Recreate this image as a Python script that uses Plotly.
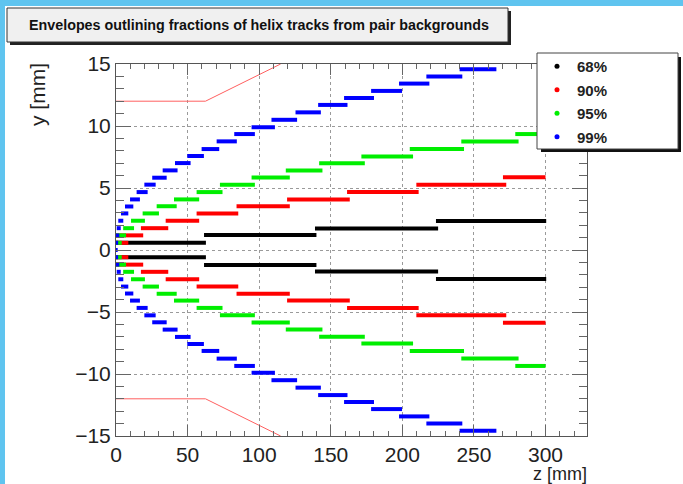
import plotly.graph_objects as go

# ---------------- data ----------------
# 68 % envelope
black_y  = [0.58, 1.20, 1.74, 2.33]
black_z0 = [0.0, 61.5, 139.0, 223.5]
black_z1 = [62.8, 140.0, 225.0, 300.5]

# 90 % envelope
red_y  = [0.58, 1.18, 1.76, 2.36, 2.95, 3.53, 4.08, 4.67, 5.27, 5.86]
red_z0 = [0.0, 0.0, 17.4, 34.7, 56.3, 84.2, 119.5, 161.4, 209.8, 270.3]
red_z1 = [8.6, 19.0, 36.5, 58.1, 85.4, 121.4, 163.3, 211.4, 272.6, 300.0]

# 95 % envelope
green_y  = [0.58, 1.18, 1.76, 2.36, 2.95, 3.53, 4.08, 4.67, 5.27, 5.84,
            6.42, 6.99, 7.55, 8.14, 8.76, 9.35]
green_z0 = [0.0, 0.0, 5.0, 10.5, 18.6, 28.4, 40.5, 56.3, 72.6, 94.7,
            118.6, 141.9, 171.4, 205.2, 241.2, 278.9]
green_z1 = [4.0, 7.0, 12.6, 20.2, 30.0, 42.4, 58.1, 74.4, 97.0, 121.4,
            144.2, 173.8, 207.5, 243.1, 281.2, 300.0]

# 99 % envelope
blue_y  = [0.0, 0.58, 1.17, 1.76, 2.36, 2.95, 3.51, 4.08, 4.67, 5.27, 5.83,
           6.42, 7.01, 7.58, 8.14, 8.76, 9.35, 9.90, 10.50, 11.10, 11.70,
           12.26, 12.83, 13.42, 13.99, 14.58]
blue_z0 = [0.0, 0.0, 0.0, 0.5, 1.6, 3.5, 6.3, 9.8, 14.4, 19.8, 25.3,
           32.6, 41.2, 49.8, 59.8, 70.3, 82.6, 94.7, 108.6, 125.4, 141.2,
           159.3, 178.2, 197.7, 216.8, 240.0]
blue_z1 = [1.0, 1.5, 2.3, 3.3, 5.1, 8.6, 12.1, 16.7, 22.1, 27.7, 35.4,
           43.0, 52.1, 61.4, 72.1, 84.4, 97.0, 111.0, 126.5, 143.1, 161.7,
           180.2, 199.8, 218.9, 241.9, 265.7]

# beam pipe outline (thin red line)
pipe_z = [0.0, 62.5, 115.0]
pipe_y = [12.0, 12.0, 15.0]

legend_labels = ["68%", "90%", "95%", "99%"]
series_colors = ["#000000", "#ff0000", "#00ee00", "#0000ff"]

x_ticks = [0, 50, 100, 150, 200, 250, 300]
y_ticks = [-15, -10, -5, 0, 5, 10, 15]

# ---------------- figure geometry (pixels) ----------------
W, H = 683, 484
L, R, T, B = 116, 587, 64, 436
PW, PH = R - L, B - T


def px(x):
    return (x - L) / PW


def py(y):
    return (B - y) / PH


def segments(ys, z0s, z1s):
    xs, yv = [], []
    for sign in (1, -1):
        for y, a, b in zip(ys, z0s, z1s):
            xs += [a, b, None]
            yv += [sign * y, sign * y, None]
    return xs, yv


fig = go.Figure()

# pipe outline
for s in (1, -1):
    fig.add_trace(go.Scatter(x=pipe_z, y=[s * v for v in pipe_y], mode="lines",
                             line=dict(color="#ff6060", width=1),
                             showlegend=False, hoverinfo="skip"))

all_series = [(black_y, black_z0, black_z1),
              (red_y, red_z0, red_z1),
              (green_y, green_z0, green_z1),
              (blue_y, blue_z0, blue_z1)]

for (ys, a, b), col in zip(all_series, series_colors):
    xs, yv = segments(ys, a, b)
    fig.add_trace(go.Scatter(x=xs, y=yv, mode="lines",
                             line=dict(color=col, width=4),
                             showlegend=False, hoverinfo="skip"))

# legend entries (dot markers)
for i, (lab, col) in enumerate(zip(legend_labels, series_colors)):
    fig.add_trace(go.Scatter(x=[None], y=[None], mode="markers", name=lab,
                             marker=dict(color=col, size=5),
                             legendgroup=f"g{i}"))

shapes = []
# slide border strips
shapes.append(dict(type="rect", xref="paper", yref="paper",
                   x0=px(0), x1=px(5), y0=py(H), y1=py(0),
                   fillcolor="#5fc4ef", line=dict(width=0), layer="below"))
shapes.append(dict(type="rect", xref="paper", yref="paper",
                   x0=px(0), x1=px(W), y0=py(6), y1=py(0),
                   fillcolor="#5fc4ef", line=dict(width=0), layer="below"))
# title box + shadow
shapes.append(dict(type="rect", xref="paper", yref="paper",
                   x0=px(10), x1=px(511), y0=py(45), y1=py(11),
                   fillcolor="#222222", line=dict(width=0), layer="above"))
shapes.append(dict(type="rect", xref="paper", yref="paper",
                   x0=px(7), x1=px(508), y0=py(42), y1=py(8),
                   fillcolor="#f0f0f0", line=dict(color="#333333", width=1),
                   layer="above"))
# legend box + shadow
shapes.append(dict(type="rect", xref="paper", yref="paper",
                   x0=px(541), x1=px(681), y0=py(152), y1=py(57),
                   fillcolor="#111111", line=dict(width=0), layer="above"))
shapes.append(dict(type="rect", xref="paper", yref="paper",
                   x0=px(537), x1=px(678), y0=py(149), y1=py(53),
                   fillcolor="white", line=dict(color="#444444", width=1),
                   layer="above"))

annotations = [
    dict(text="Envelopes outlining fractions of helix tracks from pair backgrounds",
         xref="paper", yref="paper", x=px(259), y=py(25), showarrow=False,
         xanchor="center", yanchor="middle",
         font=dict(family="Liberation Sans, Arial", size=14.3, color="#111111",
                   weight="bold")),
    dict(text="y [mm]", xref="paper", yref="paper", x=px(37), y=py(95),
         showarrow=False, textangle=-90, xanchor="center", yanchor="middle",
         font=dict(family="Liberation Sans, Arial", size=21, color="#222222")),
    dict(text="z [mm]", xref="paper", yref="paper", x=px(589), y=py(462),
         showarrow=False, xanchor="right", yanchor="top",
         font=dict(family="Liberation Sans, Arial", size=18, color="#222222")),
]

axis_common = dict(showline=True, linecolor="#555555", linewidth=1,
                   mirror="allticks", ticks="inside", tickcolor="#666666",
                   showgrid=True, gridcolor="#9a9a9a", griddash="dot",
                   gridwidth=1, zeroline=False,
                   tickfont=dict(family="Liberation Sans, Arial", size=21,
                                 color="#222222"))

fig.update_xaxes(range=[0, 329], tickvals=x_ticks, ticklen=11,
                 minor=dict(ticks="inside", dtick=10, tick0=0, ticklen=5,
                            tickcolor="#666666", showgrid=False),
                 **axis_common)
fig.update_yaxes(range=[-15, 15], tickvals=y_ticks, ticklen=15,
                 minor=dict(ticks="inside", dtick=1, tick0=0, ticklen=8,
                            tickcolor="#666666", showgrid=False),
                 **axis_common)

fig.update_layout(
    width=W, height=H,
    margin=dict(l=L, r=W - R, t=T, b=H - B, pad=0),
    paper_bgcolor="white", plot_bgcolor="white",
    shapes=shapes, annotations=annotations,
    showlegend=True,
    legend=dict(x=px(537), y=py(50), xanchor="left", yanchor="top",
                bgcolor="rgba(0,0,0,0)", borderwidth=0,
                tracegroupgap=1, itemwidth=30,
                font=dict(family="Liberation Sans, Arial", size=15,
                          color="#222222", weight="bold")),
)

fig.write_html("out.html")
